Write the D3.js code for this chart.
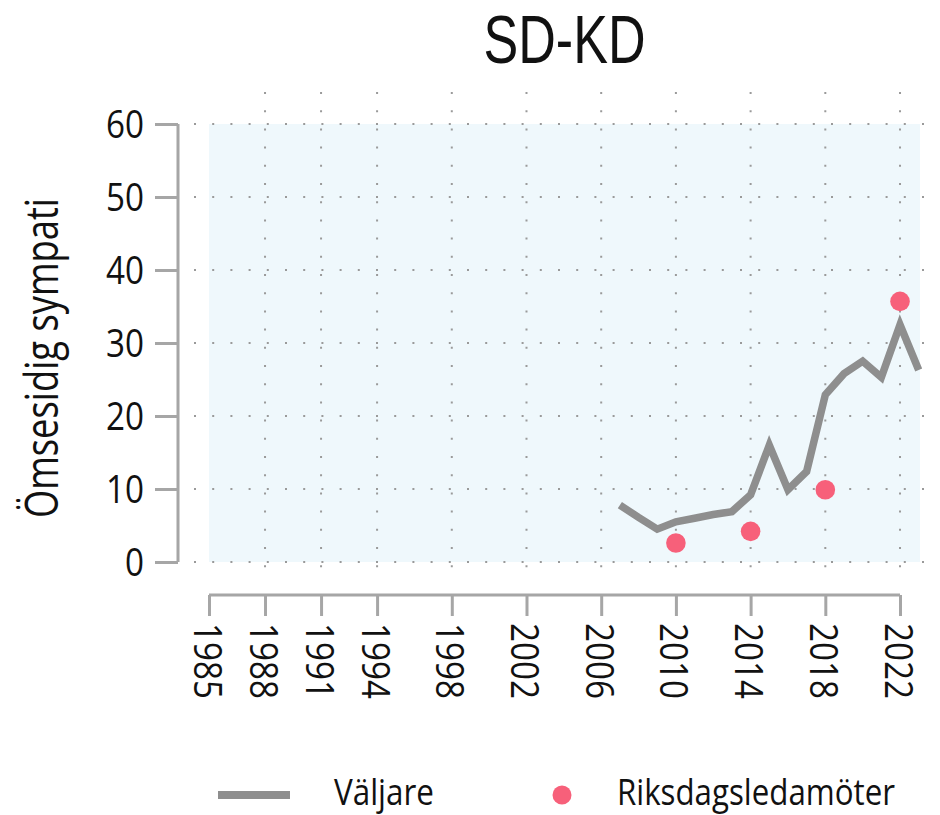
<!DOCTYPE html>
<html>
<head>
<meta charset="utf-8">
<script src="https://cdn.jsdelivr.net/npm/d3@7"></script>
<style>
  html, body { margin: 0; padding: 0; background: #ffffff; }
  svg { display: block; }
  text { font-family: "Open Sans", "Noto Sans", "DejaVu Sans", sans-serif; fill: #111; }
</style>
</head>
<body>
<svg id="chart" width="940" height="815"></svg>
<script>
// ---- data ----
const title = "SD-KD";
const yLabel = "Ömsesidig sympati";
const xTicks = [1985, 1988, 1991, 1994, 1998, 2002, 2006, 2010, 2014, 2018, 2022];
const yTicks = [0, 10, 20, 30, 40, 50, 60];
const voterYears = [2007, 2008, 2009, 2010, 2011, 2012, 2013, 2014, 2015, 2016, 2017, 2018, 2019, 2020, 2021, 2022, 2023];
const voterValues = [7.8, 6.1, 4.5, 5.5, 6.0, 6.5, 6.9, 9.2, 16.0, 9.9, 12.4, 22.9, 25.8, 27.5, 25.3, 32.5, 26.3];
const mpYears = [2010, 2014, 2018, 2022];
const mpValues = [2.6, 4.2, 9.9, 35.7];
const legendLabels = ["Väljare", "Riksdagsledamöter"];

// ---- styles ----
const lineColor = "#8e8e8e";
const dotColor = "#f7607a";
const axisColor = "#a6a6a6";
const gridColor = "#9a9a9a";
const bgColor = "#eff8fc";
const digitW = 19; // condensed digit advance

const svg = d3.select("#chart");
const x = d3.scaleLinear().domain([1985, 2023.07]).range([209, 920]);
const y = d3.scaleLinear().domain([0, 60]).range([562, 124]);

// background
svg.append("rect")
  .attr("x", x(1985)).attr("y", y(60))
  .attr("width", x(2023.07) - x(1985)).attr("height", y(0) - y(60))
  .attr("fill", bgColor);

// grid
const grid = svg.append("g").attr("stroke", gridColor).attr("stroke-width", 2)
  .attr("stroke-dasharray", "2 16.2");
grid.selectAll("line.h").data(yTicks).join("line").attr("class", "h")
  .attr("x1", 194).attr("x2", 932)
  .attr("y1", d => y(d)).attr("y2", d => y(d));
grid.selectAll("line.v").data(xTicks.slice(1)).join("line").attr("class", "v")
  .attr("x1", d => x(d)).attr("x2", d => x(d))
  .attr("y1", 92).attr("y2", 582);

// y axis
const yAxis = svg.append("g").attr("transform", "translate(178,0)")
  .call(d3.axisLeft(y).tickValues(yTicks).tickSize(23).tickPadding(11).tickFormat(d3.format("d")));
yAxis.select(".domain").attr("stroke", axisColor).attr("stroke-width", 3)
  .attr("d", `M0,${y(0)}V${y(60)}`);
yAxis.selectAll(".tick line").attr("stroke", axisColor).attr("stroke-width", 3);
yAxis.selectAll(".tick text")
  .style("font-family", '"Open Sans", "Noto Sans", sans-serif')
  .style("font-size", "38px").attr("fill", "#111").attr("dy", "0.36em")
  .attr("textLength", d => String(d).length * digitW)
  .attr("lengthAdjust", "spacingAndGlyphs");

// x axis
const xAxis = svg.append("g").attr("transform", "translate(0,595)")
  .call(d3.axisBottom(x).tickValues(xTicks).tickSize(21).tickPadding(0).tickFormat(d3.format("d")));
xAxis.select(".domain").attr("stroke", axisColor).attr("stroke-width", 3)
  .attr("d", `M${x(1985)},0H${x(2022)}`);
xAxis.selectAll(".tick line").attr("stroke", axisColor).attr("stroke-width", 3);
xAxis.selectAll(".tick text")
  .style("font-family", '"Open Sans", "Noto Sans", sans-serif')
  .style("font-size", "38px").attr("fill", "#111")
  .attr("text-anchor", "start").attr("dy", null)
  .attr("dominant-baseline", "central")
  .attr("transform", "translate(-1,28) rotate(90)")
  .attr("x", 0).attr("y", 0)
  .attr("textLength", d => String(d).length * digitW)
  .attr("lengthAdjust", "spacingAndGlyphs");

// voter line
const line = d3.line().x((d, i) => x(voterYears[i])).y(d => y(d));
svg.append("path").datum(voterValues)
  .attr("d", line).attr("fill", "none")
  .attr("stroke", lineColor).attr("stroke-width", 7.5)
  .attr("stroke-linejoin", "miter").attr("stroke-linecap", "butt");

// MP dots
svg.selectAll("circle.mp").data(mpValues).join("circle").attr("class", "mp")
  .attr("cx", (d, i) => x(mpYears[i])).attr("cy", d => y(d))
  .attr("r", 9.8).attr("fill", dotColor);

// title
svg.append("text").attr("x", (x(1985) + x(2023.07)) / 2).attr("y", 63)
  .attr("text-anchor", "middle")
  .style("font-family", '"Liberation Sans", Arimo, sans-serif')
  .style("font-size", "68px")
  .attr("textLength", 162).attr("lengthAdjust", "spacingAndGlyphs").text(title);

// y label
svg.append("text").attr("transform", "translate(58,358) rotate(-90)")
  .attr("text-anchor", "middle").style("font-size", "45px")
  .attr("textLength", 320).attr("lengthAdjust", "spacingAndGlyphs").text(yLabel);

// legend
const lg = svg.append("g");
lg.append("line").attr("x1", 218).attr("x2", 290).attr("y1", 795).attr("y2", 795)
  .attr("stroke", lineColor).attr("stroke-width", 8);
lg.append("text").attr("x", 334).attr("y", 805).style("font-size", "36px")
  .attr("textLength", 100).attr("lengthAdjust", "spacingAndGlyphs").text(legendLabels[0]);
lg.append("circle").attr("cx", 562).attr("cy", 795).attr("r", 9.5).attr("fill", dotColor);
lg.append("text").attr("x", 617).attr("y", 805).style("font-size", "36px")
  .attr("textLength", 278).attr("lengthAdjust", "spacingAndGlyphs").text(legendLabels[1]);
</script>
</body>
</html>
